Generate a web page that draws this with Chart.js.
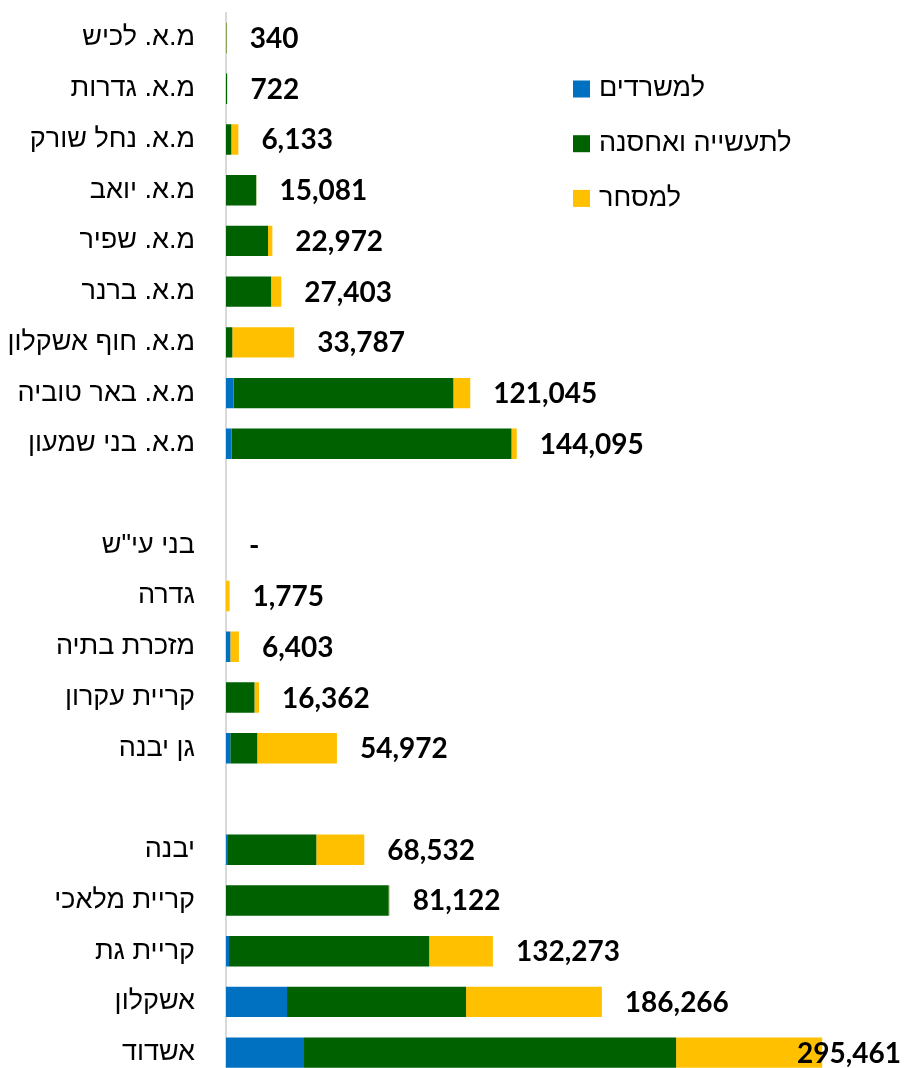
<!DOCTYPE html>
<html lang="he">
<head>
<meta charset="utf-8">
<title>שטחי בנייה לפי רשות</title>
<script src="https://cdn.jsdelivr.net/npm/chart.js@4.4.0/dist/chart.umd.min.js"></script>
<style>
  html, body { margin: 0; padding: 0; background: #fff; overflow: hidden; }
  #chart { display: block; }
</style>
</head>
<body>
<canvas id="chart" width="904" height="1078"></canvas>
<script>
// רשויות (שורות ריקות מפרידות בין הקבוצות)
var categories = [
  'מ.א. לכיש', 'מ.א. גדרות', 'מ.א. נחל שורק', 'מ.א. יואב', 'מ.א. שפיר',
  'מ.א. ברנר', 'מ.א. חוף אשקלון', 'מ.א. באר טוביה', 'מ.א. בני שמעון',
  '',
  'בני עי"ש', 'גדרה', 'מזכרת בתיה', 'קריית עקרון', 'גן יבנה',
  '',
  'יבנה', 'קריית מלאכי', 'קריית גת', 'אשקלון', 'אשדוד'
];

var seriesNames = ['למשרדים', 'לתעשייה ואחסנה', 'למסחר'];

var offices = [0, 0, 0, 0, 0, 0, 0, 3800, 2830, null,
  0, 0, 2130, 0, 2130, null,
  990, 0, 1490, 30240, 38660];

var industry = [200, 500, 2630, 15000, 20820, 22350, 3130, 108860, 138635, null,
  0, 0, 0, 14100, 13380, null,
  43770, 80622, 99223, 88730, 184400];

var commerce = [140, 222, 3503, 81, 2152, 5053, 30657, 8385, 2630, null,
  0, 1775, 4273, 2262, 39462, null,
  23772, 500, 31560, 67296, 72401];

var colors = ['#0070C0', '#006100', '#FFC000'];

var hebFont = '"Liberation Sans", "DejaVu Sans", sans-serif';

// סכום לכל שורה - ערך התווית בסוף העמודה
function totalAt(i) {
  var vals = [offices[i], industry[i], commerce[i]];
  if (vals[0] === null) return null;
  return vals.reduce(function (a, b) { return a + (b || 0); }, 0);
}

var totalsPlugin = {
  id: 'totals',
  afterDatasetsDraw: function (chart) {
    var ctx = chart.ctx;
    var xs = chart.scales.x, ys = chart.scales.y;
    ctx.save();
    ctx.font = 'bold 28px Lato, "Open Sans", sans-serif';
    ctx.fillStyle = '#000';
    ctx.textBaseline = 'middle';
    ctx.textAlign = 'left';
    categories.forEach(function (c, i) {
      var t = totalAt(i);
      if (t === null) return;
      var txt = t > 0 ? t.toLocaleString('en-US') : '-';
      var w = ctx.measureText(txt).width;
      var x = Math.min(xs.getPixelForValue(t) + 23, chart.width - w - 3);
      ctx.fillText(txt, x, ys.getPixelForValue(i) + 1);
    });
    ctx.restore();
  }
};

var legendPlugin = {
  id: 'boxLegend',
  afterDraw: function (chart) {
    var ctx = chart.ctx;
    ctx.save();
    ctx.font = '27px ' + hebFont;
    ctx.textBaseline = 'middle';
    ctx.textAlign = 'left';
    chart.data.datasets.forEach(function (ds, k) {
      var cy = 89 + k * 54.7;
      ctx.fillStyle = ds.backgroundColor;
      ctx.fillRect(573, cy - 8.5, 17, 17);
      ctx.fillStyle = '#000';
      ctx.fillText(ds.label, 599, cy);
    });
    ctx.restore();
  }
};

function criaDataset(k, dados) {
  return {
    label: seriesNames[k],
    data: dados,
    backgroundColor: colors[k],
    borderWidth: 0,
    categoryPercentage: 1,
    barPercentage: 0.6
  };
}

var chart = new Chart(document.getElementById('chart').getContext('2d'), {
  type: 'bar',
  data: {
    labels: categories,
    datasets: [
      criaDataset(0, offices),
      criaDataset(1, industry),
      criaDataset(2, commerce)
    ]
  },
  options: {
    indexAxis: 'y',
    responsive: false,
    animation: false,
    devicePixelRatio: 1,
    layout: { padding: { top: 12.6, right: 0, bottom: 0, left: 0 } },
    plugins: {
      legend: { display: false },
      tooltip: { enabled: false }
    },
    scales: {
      x: {
        stacked: true,
        display: false,
        min: 0,
        max: 336000
      },
      y: {
        stacked: true,
        afterFit: function (scale) {
          // רוחב קבוע לציר התוויות, בלי ריפוד אנכי
          scale.width = 226;
          scale.paddingTop = 0;
          scale.paddingBottom = 0;
        },
        grid: { display: false, drawTicks: false },
        border: { display: true, color: '#d9d9d9', width: 2 },
        ticks: {
          padding: 31,
          color: '#000',
          font: { family: hebFont, size: 27 }
        }
      }
    }
  },
  plugins: [totalsPlugin, legendPlugin]
});
</script>
</body>
</html>
